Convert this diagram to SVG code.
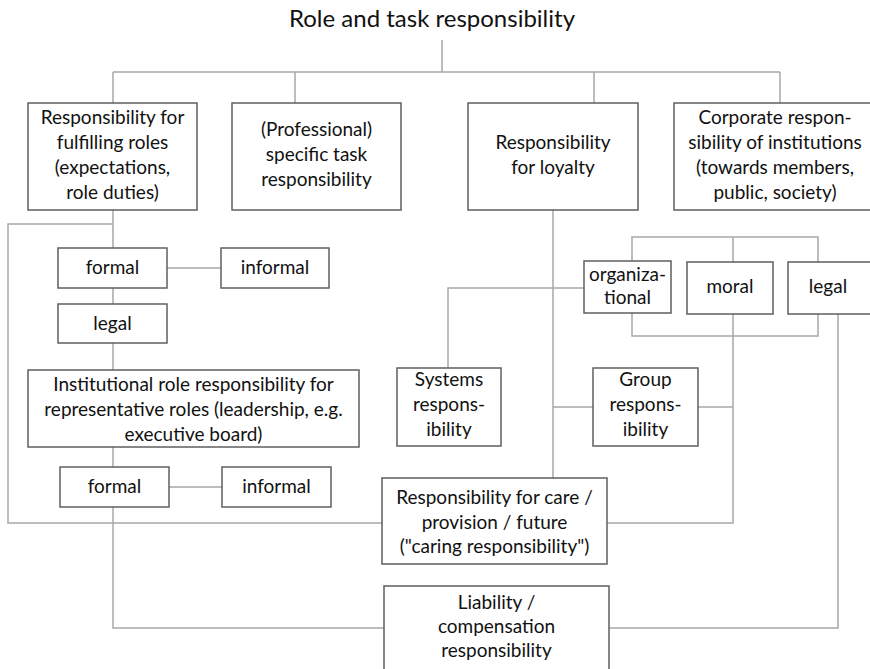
<svg xmlns="http://www.w3.org/2000/svg" width="870" height="669" viewBox="0 0 870 669">
<style>
.bg{fill:#ffffff}
.box{fill:#ffffff;stroke:#5f5f5f;stroke-width:1.5}
.con{fill:none;stroke:#a8a8a8;stroke-width:1.5}
text{font-family:Lato,"Open Sans","Liberation Sans",sans-serif;font-size:19px;fill:#111111;text-anchor:middle}
.title{font-size:24px}
</style>
<rect class="bg" x="0" y="0" width="870" height="669"/>
<g id="connectors">
<path class="con" d="M442 40V72M113 72H780M113 72V103M295 72V103M594 72V103M780 72V103"/>
<path class="con" d="M113 210V248M113 224H8V523H382"/>
<path class="con" d="M167 268H221M113 288V304M113 343V370M113 447V467M169 487H222M113 507V628H384"/>
<path class="con" d="M553 210V478M553 407H593M698 407H733M733 314V523H607"/>
<path class="con" d="M632 261V237H818V262M733 237V262M632 313V336H818V314"/>
<path class="con" d="M584 288H448V368M838 314V628H609"/>
</g>
<g id="title"><text class="title" x="432" y="27">Role and task responsibility</text></g>
<g id="n-roles"><rect class="box" x="28" y="103" width="169" height="107"/>
<text x="112.5" y="124">Responsibility for</text><text x="112.5" y="149">fulfilling roles</text><text x="112.5" y="174">(expectations,</text><text x="112.5" y="199">role duties)</text></g>
<g id="n-task"><rect class="box" x="232" y="103" width="169" height="107"/>
<text x="316.5" y="136">(Professional)</text><text x="316.5" y="161">specific task</text><text x="316.5" y="186">responsibility</text></g>
<g id="n-loyalty"><rect class="box" x="468" y="103" width="170" height="107"/>
<text x="553" y="149">Responsibility</text><text x="553" y="174">for loyalty</text></g>
<g id="n-corporate"><rect class="box" x="674" y="103" width="204" height="107"/>
<text x="775" y="124">Corporate respon-</text><text x="775" y="149">sibility of institutions</text><text x="775" y="174">(towards members,</text><text x="775" y="199">public, society)</text></g>
<g id="n-formal1"><rect class="box" x="58" y="248" width="109" height="40"/><text x="112.5" y="274">formal</text></g>
<g id="n-informal1"><rect class="box" x="221" y="248" width="108" height="40"/><text x="275" y="274">informal</text></g>
<g id="n-legal1"><rect class="box" x="58" y="304" width="109" height="39"/><text x="112.5" y="330">legal</text></g>
<g id="n-institutional"><rect class="box" x="28" y="370" width="331" height="77"/>
<text x="193.5" y="391">Institutional role responsibility for</text><text x="193.5" y="416">representative roles (leadership, e.g.</text><text x="193.5" y="441">executive board)</text></g>
<g id="n-formal2"><rect class="box" x="60" y="467" width="109" height="40"/><text x="114.5" y="493">formal</text></g>
<g id="n-informal2"><rect class="box" x="222" y="467" width="109" height="40"/><text x="276.5" y="493">informal</text></g>
<g id="n-org"><rect class="box" x="584" y="261" width="87" height="52"/><text x="627.5" y="281">organiza-</text><text x="627.5" y="304">tional</text></g>
<g id="n-moral"><rect class="box" x="687" y="262" width="86" height="52"/><text x="730" y="293">moral</text></g>
<g id="n-legal2"><rect class="box" x="788" y="262" width="86" height="52"/><text x="828" y="293">legal</text></g>
<g id="n-systems"><rect class="box" x="397" y="368" width="104" height="78"/>
<text x="449" y="386">Systems</text><text x="449" y="411">respons-</text><text x="449" y="436">ibility</text></g>
<g id="n-group"><rect class="box" x="593" y="368" width="105" height="78"/>
<text x="645.5" y="386">Group</text><text x="645.5" y="411">respons-</text><text x="645.5" y="436">ibility</text></g>
<g id="n-care"><rect class="box" x="382" y="478" width="225" height="86"/>
<text x="494.5" y="504">Responsibility for care /</text><text x="494.5" y="529">provision / future</text><text x="494.5" y="553">("caring responsibility")</text></g>
<g id="n-liability"><rect class="box" x="384" y="586" width="225" height="90"/>
<text x="496.5" y="609">Liability /</text><text x="496.5" y="633">compensation</text><text x="496.5" y="657">responsibility</text></g>
</svg>
